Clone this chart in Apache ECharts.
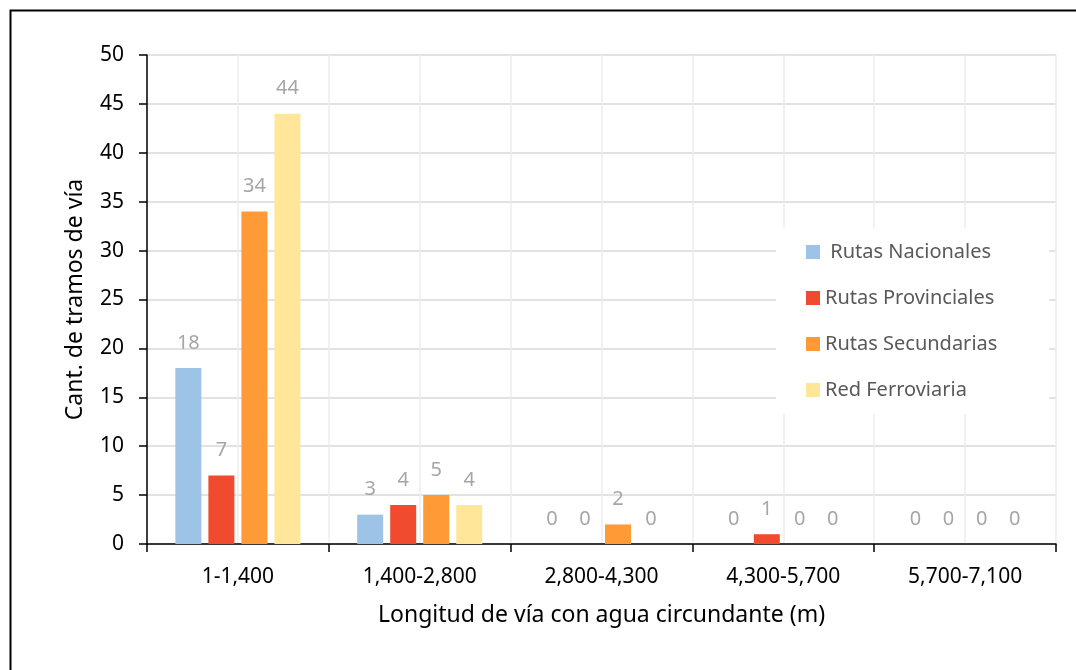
<!DOCTYPE html>
<html>
<head>
<meta charset="utf-8">
<script src="https://cdn.jsdelivr.net/npm/echarts@6/dist/echarts.min.js"></script>
<style>
html,body{margin:0;padding:0;background:#fff;}
#chart{width:1076px;height:670px;}
</style>
</head>
<body>
<div id="chart"></div>
<script>
const categories = ['1-1,400', '1,400-2,800', '2,800-4,300', '4,300-5,700', '5,700-7,100'];
const seriesNames = [' Rutas Nacionales', 'Rutas Provinciales', 'Rutas Secundarias', 'Red Ferroviaria'];
const rutasNacionales = [18, 3, 0, 0, 0];
const rutasProvinciales = [7, 4, 0, 1, 0];
const rutasSecundarias = [34, 5, 2, 0, 0];
const redFerroviaria = [44, 4, 0, 0, 0];
const yTicks = [0, 5, 10, 15, 20, 25, 30, 35, 40, 45, 50];
const colors = ['#9DC3E6', '#F04B2F', '#FF9A36', '#FFE699'];

const FONT = 'Noto Sans';
const chart = echarts.init(document.getElementById('chart'));
const values = [rutasNacionales, rutasProvinciales, rutasSecundarias, redFerroviaria];

chart.setOption({
  animation: false,
  backgroundColor: '#fff',
  textStyle: { fontFamily: FONT },
  grid: { left: 147, right: 20, top: 55, bottom: 126, containLabel: false },
  graphic: [{
    type: 'rect', z: 100, silent: true,
    shape: { x: 10.5, y: 10.5, width: 1100, height: 700 },
    style: { fill: 'none', stroke: '#000', lineWidth: 2 }
  }],
  legend: {
    orient: 'vertical',
    left: 776, top: 228,
    backgroundColor: '#fff',
    padding: [13, 52, 13, 30],
    itemWidth: 14, itemHeight: 14,
    itemGap: 24,
    icon: 'rect',
    z: 10,
    textStyle: { fontFamily: FONT, fontSize: 20, color: '#595959', lineHeight: 22 },
    data: seriesNames
  },
  xAxis: [{
    type: 'category',
    data: categories,
    axisLine: { lineStyle: { color: '#000', width: 1.5 } },
    axisTick: { show: true, length: 8, lineStyle: { color: '#000', width: 1.5 } },
    axisLabel: { color: '#000', fontSize: 21, margin: 23, fontFamily: FONT },
    splitLine: { show: false },
    name: 'Longitud de vía con agua circundante (m)',
    nameLocation: 'middle',
    nameGap: 60,
    nameTextStyle: { color: '#000', fontSize: 23, fontFamily: FONT }
  }, {
    type: 'value',
    min: 0, max: 10, interval: 1,
    position: 'bottom',
    show: true,
    axisLine: { show: false },
    axisTick: { show: false },
    axisLabel: { show: false },
    splitLine: { show: true, lineStyle: { color: '#ececec', width: 1.5 } }
  }],
  yAxis: {
    type: 'value',
    min: yTicks[0], max: yTicks[yTicks.length - 1], interval: 5,
    axisLine: { show: true, lineStyle: { color: '#000', width: 1.5 } },
    axisTick: { show: true, length: 8, inside: false, lineStyle: { color: '#000', width: 1.5 } },
    axisLabel: { color: '#000', fontSize: 21, margin: 23, fontFamily: FONT },
    splitLine: { show: true, lineStyle: { color: '#d9d9d9', width: 1.5 } },
    name: 'Cant. de tramos de vía',
    nameLocation: 'middle',
    nameGap: 60,
    nameTextStyle: { color: '#000', fontSize: 23, fontFamily: FONT }
  },
  series: seriesNames.map((n, i) => ({
    name: n,
    type: 'bar',
    xAxisIndex: 0,
    data: values[i],
    barWidth: 26,
    barGap: '27%',
    itemStyle: { color: colors[i] },
    label: {
      show: true, position: 'top', distance: 15,
      color: '#A6A6A6', fontSize: 20, fontFamily: FONT
    },
    z: 2
  }))
});
</script>
</body>
</html>
